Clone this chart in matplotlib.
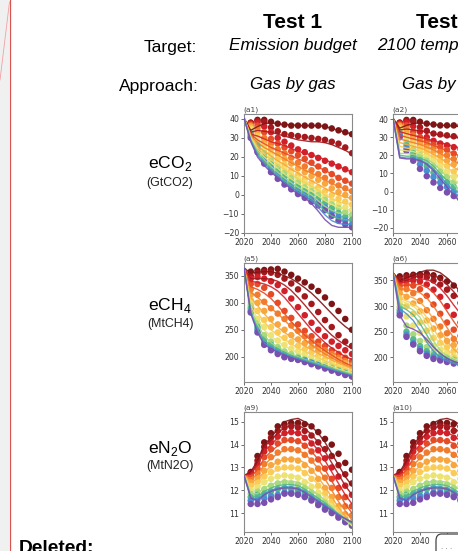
import matplotlib
matplotlib.use("Agg")
import matplotlib.pyplot as plt
from matplotlib.patches import Rectangle, FancyBboxPatch
from matplotlib.lines import Line2D

plt.rcParams['mathtext.fontset'] = 'custom'
plt.rcParams['mathtext.rm'] = 'Liberation Sans'

W, H = 458, 551

# ---------------- data ----------------
YEARS_LINE = [2020, 2025, 2030, 2035, 2040, 2045, 2050, 2055, 2060, 2065, 2070,
              2075, 2080, 2085, 2090, 2095, 2100]
YEARS_DOT = [2025, 2030, 2035, 2040, 2045, 2050, 2055, 2060, 2065, 2070,
             2075, 2080, 2085, 2090, 2095, 2100]
YEARS_LINE_T2 = [2020, 2025, 2030, 2035, 2040, 2045, 2050, 2055, 2060, 2065, 2070]
YEARS_DOT_T2 = [2025, 2030, 2035, 2040, 2045, 2050, 2055, 2060, 2065, 2070]

SCENARIO_COLORS = ['#7d1517', '#a3191d', '#d2202a', '#e64b27', '#f27c2d', '#f8a63e',
                   '#fbcb57', '#ece374', '#a9d97f', '#55b98c', '#4a8fd0', '#7a4fae']

# (a1) eCO2, Test 1
CO2_T1_LINES = [
    [40.5, 34, 36, 37.5, 38, 37.5, 37, 37, 36.5, 36.5, 36.5, 36.5, 36, 35, 34, 33, 32],
    [40.5, 33, 34, 33.5, 33, 32, 31, 30, 29, 28.5, 28, 28, 27.5, 26.5, 25, 23.5, 21.5],
    [40.5, 32, 31, 29.5, 28, 27, 26, 24.5, 23, 22, 21, 20, 18.5, 17, 15, 13.5, 12],
    [40.5, 32, 29, 27, 25, 23.5, 22, 20.5, 19, 17.5, 16, 14.5, 13, 11, 9, 7.5, 6],
    [40.5, 31.5, 27.5, 25, 23, 21, 19, 17, 15, 13, 11.5, 10, 8, 6, 4.5, 3, 2],
    [40.5, 31, 26, 23, 20.5, 18, 16, 13.5, 11.5, 9.5, 7.5, 5.5, 3.5, 1.5, 0, -1, -2],
    [40.5, 30.5, 25, 21.5, 18.5, 16, 13.5, 11, 8.5, 6.5, 4.5, 2.5, 0, -2, -3.5, -4.5, -5],
    [40.5, 30, 24, 20, 17, 14, 11, 8.5, 6, 4, 2, -0.5, -3, -5, -6.5, -7.5, -8],
    [40.5, 29.5, 23, 18.5, 15, 12, 9, 6.5, 4, 2, 0, -3, -6, -8, -9.5, -10, -10.5],
    [40.5, 29, 22, 17.5, 14, 10.5, 7.5, 5, 2.5, 0.5, -2, -5, -8.5, -11, -12.5, -13, -13],
    [40.5, 28.5, 21, 16.5, 13, 9.5, 6.5, 4, 1.5, -0.5, -3, -6.5, -10.5, -13.5, -15, -15.5, -15.5],
    [40.5, 28, 20, 15.5, 12, 9, 6, 3, 0.5, -1.5, -4.5, -8.5, -13, -16, -17, -17, -17],
]
CO2_T1_DOTS = [
    [38, 39.5, 39.5, 38.5, 37.5, 37, 36.5, 36.5, 36.5, 36.5, 36.5, 36, 35, 34, 33, 32],
    [38, 39, 38.5, 35.5, 33.5, 32, 31.5, 31, 30.5, 30, 29.5, 29, 28, 27, 25, 22],
    [37.5, 38, 36, 33, 30, 28, 26, 24, 22.5, 21, 19.5, 18, 16.5, 15, 13.5, 12],
    [37, 36.5, 33, 29.5, 27, 25, 23, 21, 19, 17, 15, 13, 11, 9, 7.5, 6],
    [36.5, 35, 30, 27, 24, 22, 19.5, 17, 15, 13, 11, 9, 7, 5, 3.5, 2],
    [36, 33, 28, 24.5, 21.5, 19, 16.5, 14, 12, 10, 8, 6, 3.5, 1.5, 0, -1.5],
    [35, 31, 26, 22, 19, 16, 13, 10.5, 8.5, 6.5, 4, 2, 0, -2, -3.5, -5],
    [34, 29, 24, 20, 16.5, 13.5, 11, 8.5, 6.5, 4, 2, -0.5, -3, -5, -6.5, -8],
    [33, 27, 22, 18, 14.5, 11.5, 9, 6.5, 4, 2, 0, -2.5, -5, -7, -9, -10.5],
    [32, 25.5, 20, 16, 12.5, 9.5, 7, 4.5, 2, 0, -2, -4.5, -7, -9.5, -11.5, -13],
    [31, 24, 18, 14, 10.5, 7.5, 5, 2.5, 0, -2, -4, -6.5, -9, -11.5, -13.5, -15.5],
    [30, 22.5, 16.5, 12, 8.5, 5.5, 3, 0.5, -1.5, -3.5, -5.5, -8, -11, -13.5, -15.5, -17],
]

# (a2) eCO2, Test 2 (visible part)
CO2_T2_LINES = [
    [40.5, 35, 36.5, 37.5, 38, 37.5, 37, 36.5, 36.5, 36, 36],
    [40.5, 34, 34.5, 34, 33.5, 33, 32, 31, 30.5, 30, 29.5],
    [40.5, 33, 32, 31, 30, 29, 28, 27, 26, 25, 24],
    [40.5, 31, 30, 29, 28, 27, 25.5, 24, 22.5, 21, 19.5],
    [40.5, 29, 28, 27, 26, 24.5, 23, 21, 19, 17, 15],
    [40.5, 27, 26, 25, 24, 22.5, 20.5, 18.5, 16, 13.5, 11],
    [40.5, 25, 24, 23.5, 22.5, 21, 19, 16.5, 13.5, 10.5, 7.5],
    [40.5, 23, 22.5, 22, 21, 19.5, 17, 14, 10.5, 7, 3.5],
    [40.5, 21, 21, 20.5, 19.5, 18, 15.5, 12, 8, 4, 0],
    [40.5, 20, 19.5, 19.5, 18.5, 17, 14, 10, 6, 2, -2],
    [40.5, 19, 18.5, 18.5, 17.5, 15.5, 12.5, 8.5, 4, 0, -4],
    [40.5, 18.5, 18, 18, 17, 15, 11.5, 7, 2.5, -2, -6],
]
CO2_T2_DOTS = [
    [38, 39.5, 39.5, 38.5, 37.5, 37, 36.5, 36.5, 36.5, 36.5],
    [38, 39, 38.5, 35.5, 33.5, 32, 31.5, 31, 30.5, 30],
    [37.5, 38, 36, 33, 30, 28, 26.5, 25.5, 24.5, 23.5],
    [37, 36.5, 33, 30, 28, 26, 24.5, 23, 21, 19.5],
    [36.5, 35, 31, 28, 26, 24, 22, 20, 18, 16],
    [36, 33, 29, 26, 24, 22, 19.5, 17, 15, 12.5],
    [35, 31, 27, 24, 22, 19.5, 17, 14, 11, 8.5],
    [34, 29, 25, 22, 19.5, 17, 14, 11, 8, 5],
    [33, 27, 23, 20, 17, 14, 11, 8, 5, 2],
    [32, 25.5, 21, 17.5, 14, 10.5, 7.5, 5, 2.5, 0],
    [31, 24, 19, 15, 11.5, 8, 5, 2.5, 0, -2],
    [30, 22.5, 17, 12.5, 8.5, 5, 2, -0.5, -2.5, -4],
]

# (a5) eCH4, Test 1
CH4_T1_LINES = [
    [365, 355, 357, 358, 358, 355, 350, 345, 337, 328, 318, 306, 293, 280, 267, 256, 247],
    [365, 345, 345, 345, 344, 340, 333, 323, 310, 296, 281, 266, 252, 240, 230, 222, 215],
    [365, 340, 338, 335, 330, 322, 310, 295, 280, 265, 250, 238, 226, 216, 208, 200, 195],
    [365, 330, 325, 318, 308, 295, 280, 265, 252, 240, 230, 220, 211, 203, 195, 188, 183],
    [365, 320, 310, 300, 290, 280, 268, 255, 243, 232, 222, 213, 205, 198, 191, 185, 180],
    [365, 310, 295, 280, 265, 255, 245, 236, 228, 220, 213, 206, 200, 194, 188, 183, 178],
    [365, 300, 282, 265, 250, 240, 232, 224, 216, 210, 204, 198, 192, 187, 182, 178, 174],
    [365, 295, 270, 250, 238, 228, 220, 213, 207, 202, 197, 192, 187, 182, 177, 173, 170],
    [365, 290, 260, 238, 226, 218, 211, 205, 200, 195, 191, 187, 183, 179, 175, 171, 168],
    [365, 285, 252, 230, 222, 214, 208, 202, 198, 194, 190, 186, 182, 178, 174, 170, 166],
    [365, 282, 248, 225, 218, 211, 205, 200, 196, 192, 188, 184, 180, 176, 172, 168, 165],
    [365, 280, 245, 222, 215, 208, 203, 198, 194, 190, 186, 182, 178, 174, 170, 167, 163],
]
CH4_T1_DOTS = [
    [358, 360, 361, 362, 363, 358, 352, 345, 338, 330, 322, 310, 298, 285, 270, 250],
    [350, 355, 357, 356, 352, 345, 336, 325, 312, 298, 283, 268, 255, 240, 228, 220],
    [345, 348, 345, 340, 333, 322, 308, 292, 277, 263, 250, 238, 228, 220, 212, 205],
    [335, 335, 328, 316, 300, 285, 272, 260, 248, 238, 228, 220, 212, 205, 198, 192],
    [325, 315, 302, 290, 280, 270, 258, 248, 238, 228, 220, 212, 205, 198, 192, 185],
    [315, 300, 285, 270, 260, 250, 240, 232, 225, 218, 212, 206, 200, 194, 188, 182],
    [305, 285, 268, 255, 245, 235, 227, 220, 214, 208, 202, 196, 190, 185, 180, 176],
    [300, 270, 255, 240, 230, 222, 215, 210, 205, 200, 195, 190, 185, 180, 176, 172],
    [295, 262, 240, 228, 218, 210, 205, 200, 196, 192, 188, 184, 180, 176, 172, 168],
    [290, 255, 232, 222, 213, 205, 200, 197, 194, 190, 186, 182, 178, 174, 170, 166],
    [285, 250, 225, 215, 208, 200, 197, 195, 192, 188, 184, 180, 176, 172, 168, 164],
    [282, 245, 222, 212, 205, 199, 196, 194, 190, 186, 182, 178, 174, 170, 166, 163],
]

# (a6) eCH4, Test 2 (visible part)
CH4_T2_LINES = [
    [365, 350, 355, 360, 366, 370, 370, 365, 355, 342, 328],
    [365, 348, 350, 355, 360, 362, 360, 353, 342, 328, 312],
    [365, 345, 347, 350, 353, 352, 346, 335, 320, 302, 285],
    [365, 340, 340, 342, 342, 337, 326, 310, 290, 270, 252],
    [365, 335, 332, 330, 326, 316, 300, 280, 258, 238, 222],
    [365, 325, 320, 316, 308, 294, 274, 252, 232, 216, 205],
    [365, 315, 310, 305, 295, 278, 256, 234, 216, 204, 196],
    [365, 310, 306, 300, 288, 268, 245, 224, 208, 198, 192],
    [365, 305, 300, 292, 278, 256, 232, 214, 202, 195, 190],
    [365, 300, 293, 283, 266, 244, 222, 206, 197, 191, 187],
    [365, 295, 285, 272, 252, 230, 212, 200, 193, 188, 185],
    [365, 282, 260, 255, 248, 235, 220, 208, 198, 192, 188],
]
CH4_T2_DOTS = [
    [358, 360, 361, 362, 363, 360, 355, 348, 340, 330],
    [352, 356, 358, 358, 356, 350, 342, 332, 320, 306],
    [347, 350, 350, 348, 342, 332, 318, 300, 283, 268],
    [340, 342, 340, 333, 320, 303, 285, 268, 254, 242],
    [333, 333, 325, 310, 292, 275, 260, 247, 236, 228],
    [325, 318, 305, 290, 272, 256, 243, 232, 224, 216],
    [315, 300, 285, 268, 252, 238, 228, 220, 213, 207],
    [305, 280, 262, 248, 234, 222, 214, 208, 203, 199],
    [298, 262, 245, 232, 220, 210, 204, 200, 197, 194],
    [292, 250, 235, 222, 212, 204, 200, 197, 194, 191],
    [287, 244, 228, 216, 207, 200, 197, 194, 191, 188],
    [282, 240, 225, 212, 203, 197, 194, 191, 188, 186],
]

# (a9) eN2O, Test 1
N2O_T1_LINES = [
    [12.65, 12.8, 13.3, 14.0, 14.3, 14.7, 15.0, 15.1, 15.15, 15.0, 14.8, 14.5, 14.1, 13.6, 13.1, 12.6, 12.2],
    [12.65, 12.75, 13.2, 13.9, 14.2, 14.5, 14.75, 14.85, 14.85, 14.7, 14.45, 14.1, 13.7, 13.2, 12.7, 12.2, 11.8],
    [12.65, 12.7, 13.1, 13.7, 14.0, 14.3, 14.5, 14.55, 14.5, 14.35, 14.1, 13.75, 13.3, 12.8, 12.3, 11.8, 11.4],
    [12.65, 12.6, 12.9, 13.4, 13.7, 13.95, 14.15, 14.2, 14.15, 14.0, 13.7, 13.35, 12.9, 12.4, 11.9, 11.4, 11.0],
    [12.65, 12.5, 12.7, 13.1, 13.4, 13.6, 13.75, 13.8, 13.75, 13.6, 13.3, 12.95, 12.5, 12.0, 11.5, 11.1, 10.7],
    [12.65, 12.35, 12.5, 12.8, 13.05, 13.25, 13.35, 13.4, 13.35, 13.2, 12.9, 12.55, 12.15, 11.7, 11.25, 10.85, 10.5],
    [12.65, 12.2, 12.3, 12.6, 12.75, 12.9, 12.95, 13.0, 12.95, 12.8, 12.55, 12.25, 11.9, 11.5, 11.1, 10.75, 10.45],
    [12.65, 12.0, 12.1, 12.35, 12.5, 12.6, 12.65, 12.65, 12.6, 12.45, 12.25, 12.0, 11.7, 11.35, 11.0, 10.7, 10.45],
    [12.65, 11.85, 11.85, 12.1, 12.25, 12.35, 12.4, 12.4, 12.35, 12.2, 12.0, 11.8, 11.55, 11.25, 10.95, 10.7, 10.5],
    [12.65, 11.75, 11.7, 11.95, 12.1, 12.2, 12.25, 12.25, 12.2, 12.05, 11.85, 11.65, 11.45, 11.2, 10.95, 10.75, 10.55],
    [12.65, 11.7, 11.6, 11.85, 12.0, 12.1, 12.15, 12.15, 12.1, 11.95, 11.75, 11.55, 11.35, 11.15, 10.95, 10.75, 10.6],
    [12.65, 11.65, 11.55, 11.8, 11.95, 12.05, 12.1, 12.1, 12.05, 11.9, 11.7, 11.5, 11.3, 11.1, 10.9, 10.75, 10.6],
]
N2O_T1_DOTS = [
    [12.8, 13.5, 14.1, 14.5, 14.8, 14.9, 14.95, 14.95, 14.9, 14.8, 14.55, 14.25, 14.0, 13.6, 13.2, 12.9],
    [12.75, 13.3, 13.9, 14.3, 14.6, 14.75, 14.8, 14.75, 14.6, 14.4, 14.1, 13.8, 13.5, 13.1, 12.7, 12.3],
    [12.7, 13.15, 13.7, 14.1, 14.35, 14.5, 14.55, 14.5, 14.3, 14.05, 13.75, 13.4, 13.0, 12.6, 12.2, 11.8],
    [12.6, 12.95, 13.45, 13.8, 14.05, 14.2, 14.2, 14.15, 13.95, 13.7, 13.35, 12.95, 12.5, 12.1, 11.7, 11.3],
    [12.5, 12.75, 13.15, 13.45, 13.65, 13.8, 13.8, 13.75, 13.55, 13.3, 12.95, 12.55, 12.1, 11.7, 11.3, 10.9],
    [12.35, 12.55, 12.85, 13.1, 13.25, 13.35, 13.35, 13.3, 13.1, 12.85, 12.5, 12.1, 11.7, 11.3, 10.95, 10.6],
    [12.2, 12.35, 12.6, 12.8, 12.95, 13.0, 13.0, 12.95, 12.75, 12.5, 12.2, 11.85, 11.5, 11.15, 10.8, 10.5],
    [12.0, 12.15, 12.35, 12.5, 12.6, 12.65, 12.6, 12.55, 12.35, 12.15, 11.9, 11.6, 11.3, 11.0, 10.7, 10.45],
    [11.85, 11.95, 12.05, 12.2, 12.3, 12.35, 12.3, 12.25, 12.1, 11.9, 11.7, 11.45, 11.2, 10.95, 10.7, 10.45],
    [11.7, 11.8, 11.85, 11.95, 12.05, 12.1, 12.05, 12.0, 11.9, 11.7, 11.5, 11.3, 11.1, 10.9, 10.7, 10.5],
    [11.55, 11.6, 11.65, 11.75, 11.8, 11.9, 11.9, 11.85, 11.75, 11.6, 11.4, 11.2, 11.05, 10.85, 10.65, 10.5],
    [11.4, 11.4, 11.45, 11.6, 11.7, 11.85, 11.85, 11.8, 11.7, 11.55, 11.35, 11.15, 11.0, 10.8, 10.6, 10.45],
]

# (a10) eN2O, Test 2 (visible part)
N2O_T2_LINES = [
    [12.65, 12.8, 13.3, 14.0, 14.35, 14.7, 14.95, 15.1, 15.15, 15.05, 14.85],
    [12.65, 12.75, 13.2, 13.85, 14.2, 14.5, 14.7, 14.85, 14.85, 14.75, 14.5],
    [12.65, 12.7, 13.05, 13.65, 14.0, 14.25, 14.45, 14.55, 14.5, 14.4, 14.15],
    [12.65, 12.6, 12.9, 13.4, 13.7, 13.95, 14.1, 14.2, 14.15, 14.05, 13.75],
    [12.65, 12.5, 12.7, 13.1, 13.4, 13.6, 13.75, 13.8, 13.75, 13.6, 13.35],
    [12.65, 12.35, 12.5, 12.8, 13.05, 13.25, 13.35, 13.4, 13.35, 13.2, 12.95],
    [12.65, 12.2, 12.3, 12.55, 12.75, 12.9, 12.95, 13.0, 12.95, 12.8, 12.6],
    [12.65, 12.0, 12.1, 12.35, 12.5, 12.6, 12.65, 12.65, 12.6, 12.45, 12.25],
    [12.65, 11.85, 11.85, 12.1, 12.25, 12.35, 12.4, 12.4, 12.35, 12.2, 12.0],
    [12.65, 11.75, 11.7, 11.95, 12.1, 12.2, 12.25, 12.25, 12.2, 12.05, 11.85],
    [12.65, 11.7, 11.6, 11.85, 12.0, 12.1, 12.15, 12.15, 12.1, 11.95, 11.75],
    [12.65, 11.65, 11.55, 11.8, 11.95, 12.05, 12.1, 12.1, 12.05, 11.9, 11.7],
]
N2O_T2_DOTS = [
    [12.8, 13.5, 14.1, 14.5, 14.8, 14.9, 14.95, 14.95, 14.9, 14.8],
    [12.75, 13.3, 13.9, 14.3, 14.6, 14.75, 14.8, 14.75, 14.6, 14.4],
    [12.7, 13.15, 13.7, 14.1, 14.35, 14.5, 14.55, 14.5, 14.3, 14.05],
    [12.6, 12.95, 13.45, 13.8, 14.05, 14.2, 14.2, 14.15, 13.95, 13.7],
    [12.5, 12.75, 13.15, 13.45, 13.65, 13.8, 13.8, 13.75, 13.55, 13.3],
    [12.35, 12.55, 12.85, 13.1, 13.25, 13.35, 13.35, 13.3, 13.1, 12.85],
    [12.2, 12.35, 12.6, 12.8, 12.95, 13.0, 13.0, 12.95, 12.75, 12.5],
    [12.0, 12.15, 12.35, 12.5, 12.6, 12.65, 12.6, 12.55, 12.35, 12.15],
    [11.85, 11.95, 12.05, 12.2, 12.3, 12.35, 12.3, 12.25, 12.1, 11.9],
    [11.7, 11.8, 11.85, 11.95, 12.05, 12.1, 12.05, 12.0, 11.9, 11.7],
    [11.55, 11.6, 11.65, 11.75, 11.8, 11.9, 11.9, 11.85, 11.75, 11.6],
    [11.4, 11.4, 11.45, 11.6, 11.7, 11.85, 11.85, 11.8, 11.7, 11.55],
]

X_TICKS = [2020, 2040, 2060, 2080, 2100]
CO2_YTICKS = [-20, -10, 0, 10, 20, 30, 40]
CH4_YTICKS = [200, 250, 300, 350]
N2O_YTICKS = [11, 12, 13, 14, 15]

ROW_LABELS = [("eCO$_\\mathregular{2}$", "(GtCO2)"),
              ("eCH$_\\mathregular{4}$", "(MtCH4)"),
              ("eN$_\\mathregular{2}$O", "(MtN2O)")]
COL_TESTS = ["Test 1", "Test 2"]
COL_TARGETS = ["Emission budget", "2100 temperature"]
COL_APPROACH = ["Gas by gas", "Gas by gas"]

# ---------------- drawing ----------------
fig = plt.figure(figsize=(W / 100, H / 100), dpi=100)
fig.patch.set_facecolor('white')


def fx(x):
    return x / W


def fy(y):
    return 1 - y / H


def add_panel(x0, y0, x1, y1):
    return fig.add_axes([fx(x0), fy(y1), fx(x1) - fx(x0), (y1 - y0) / H])


def draw(ax, ly, lines, dy, dots, ylim, yticks, label):
    for i, d in enumerate(dots):
        ax.scatter(dy, d, s=22, color=SCENARIO_COLORS[i], edgecolors='none', zorder=2)
    for i, l in enumerate(lines):
        ax.plot(ly, l, color=SCENARIO_COLORS[i], lw=1.0, alpha=0.9, zorder=3)
    ax.set_xlim(2020, 2100)
    ax.set_ylim(*ylim)
    ax.set_xticks(X_TICKS)
    ax.set_yticks(yticks)
    ax.tick_params(labelsize=5.6, length=2, width=0.6, pad=1.6, colors='#555555',
                   labelcolor='#333333')
    for sp in ax.spines.values():
        sp.set_color('#8a8a8a')
        sp.set_linewidth(0.8)
    ax.text(-0.01, 1.005, label, transform=ax.transAxes, ha='left', va='bottom',
            fontsize=5.4, color='#444444')


col_x = [(244, 352), (393, 501)]
row_y = [(114, 233), (263, 382), (412, 532)]

panels = [
    (0, 0, YEARS_LINE, CO2_T1_LINES, YEARS_DOT, CO2_T1_DOTS, (-20, 42.6), CO2_YTICKS, "(a1)"),
    (0, 1, YEARS_LINE_T2, CO2_T2_LINES, YEARS_DOT_T2, CO2_T2_DOTS, (-22.9, 42.8), CO2_YTICKS, "(a2)"),
    (1, 0, YEARS_LINE, CH4_T1_LINES, YEARS_DOT, CH4_T1_DOTS, (153, 374), CH4_YTICKS, "(a5)"),
    (1, 1, YEARS_LINE_T2, CH4_T2_LINES, YEARS_DOT_T2, CH4_T2_DOTS, (152, 384), CH4_YTICKS, "(a6)"),
    (2, 0, YEARS_LINE, N2O_T1_LINES, YEARS_DOT, N2O_T1_DOTS, (10.17, 15.43), N2O_YTICKS, "(a9)"),
    (2, 1, YEARS_LINE_T2, N2O_T2_LINES, YEARS_DOT_T2, N2O_T2_DOTS, (10.17, 15.43), N2O_YTICKS, "(a10)"),
]
for r, c, ly, lines, dy, dots, ylim, yt, lab in panels:
    ax = add_panel(col_x[c][0], row_y[r][0], col_x[c][1], row_y[r][1])
    draw(ax, ly, lines, dy, dots, ylim, yt, lab)

SANS = ['Liberation Sans', 'DejaVu Sans']

# header texts
fig.text(fx(197), fy(52.3), "Target:", ha='right', va='baseline', fontsize=12.6, family=SANS)
fig.text(fx(199), fy(90.5), "Approach:", ha='right', va='baseline', fontsize=12.6, family=SANS)
col_centers = [293, 445]
for i, cx in enumerate(col_centers):
    fig.text(fx(cx), fy(28.3), COL_TESTS[i], ha='center', va='baseline', fontsize=15,
             fontweight='bold', family=SANS)
    fig.text(fx(cx), fy(50.3), COL_TARGETS[i], ha='center', va='baseline', fontsize=12.4,
             style='italic', family=SANS)
    fig.text(fx(cx), fy(89.5), COL_APPROACH[i], ha='center', va='baseline', fontsize=12.2,
             style='italic', family=SANS)

row_main_y = [167.7, 310, 453]
row_unit_y = [185.7, 326.5, 469]
for i, (main, unit) in enumerate(ROW_LABELS):
    fig.text(fx(170), fy(row_main_y[i]), main, ha='center', va='baseline', fontsize=12.6,
             family=SANS)
    fig.text(fx(170), fy(row_unit_y[i]), unit, ha='center', va='baseline', fontsize=8.9,
             family=SANS, color='#222222')

# document chrome: left margin strip, change bar, "Deleted:" note, tooltip box
fig.add_artist(Rectangle((0, 0), fx(9), 1, transform=fig.transFigure,
                         facecolor='#f0f0f0', edgecolor='none', zorder=5))
fig.add_artist(Line2D([fx(9.5), fx(9.5)], [0, 1], transform=fig.transFigure,
                      color='#d9534f', lw=0.9, zorder=6))
fig.add_artist(Line2D([fx(0), fx(9.5)], [fy(80), fy(2)], transform=fig.transFigure,
                      color='#f2a0a0', lw=0.6, zorder=6))
fig.text(fx(19), fy(553), "Deleted:", ha='left', va='baseline', fontsize=13.8,
         fontweight='bold', family=SANS)
fig.add_artist(FancyBboxPatch((fx(436), fy(566)), fx(40), 32 / H,
                              boxstyle="round,pad=0,rounding_size=0.012",
                              transform=fig.transFigure, facecolor='white',
                              edgecolor='#444444', lw=0.9, zorder=10))
fig.text(fx(441), fy(549), "· · ·", ha='left', va='center', fontsize=5, color='#777777',
         zorder=11)

fig.savefig("out.png", dpi=100)
